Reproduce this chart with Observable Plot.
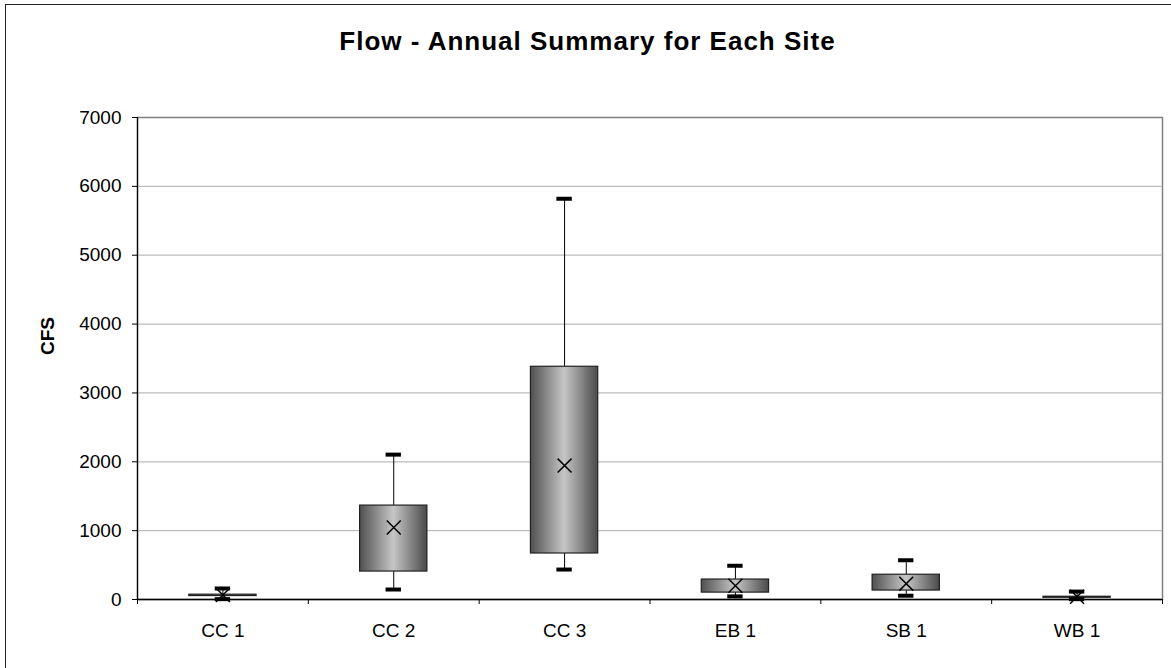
<!DOCTYPE html>
<html>
<head>
<meta charset="utf-8">
<script src="https://cdn.jsdelivr.net/npm/d3@7"></script>
<script src="https://cdn.jsdelivr.net/npm/@observablehq/plot@0.6"></script>
<style>
  html, body { margin: 0; padding: 0; background: #fff; }
  #wrap { position: relative; width: 1171px; height: 668px; overflow: hidden; font-family: "Liberation Sans", Arial, sans-serif; }
  #frame { position: absolute; left: 5px; top: 4px; width: 1180px; height: 700px; border-left: 1.5px solid #222; border-top: 1.5px solid #222; box-sizing: border-box; pointer-events: none; }
  #title { position: absolute; left: 0; width: 1171px; top: 28px; text-align: center; font-weight: bold; font-size: 26px; letter-spacing: 1px; color: #000; line-height: 1; padding-left: 2px; }
  #ylab { position: absolute; left: 48px; top: 336px; transform: translate(-50%, -50%) rotate(-90deg); font-weight: bold; font-size: 19px; color: #000; white-space: nowrap; }
  #chart { position: absolute; left: 0; top: 0; }
</style>
</head>
<body>
<div id="wrap">
  <div id="chart"></div>
  <div id="frame"></div>
  <div id="title">Flow - Annual Summary for Each Site</div>
  <div id="ylab">CFS</div>
</div>
<script>
const sites   = ["CC 1", "CC 2", "CC 3", "EB 1", "SB 1", "WB 1"];
const minVals = [5, 145, 435, 45, 55, 5];
const q1Vals  = [50, 406, 668, 100, 130, 25];
const q3Vals  = [70, 1364, 3380, 290, 360, 40];
const maxVals = [160, 2104, 5820, 490, 570, 115];
const meanVals= [65, 1045, 1945, 200, 230, 40];
const yTicks  = [0, 1000, 2000, 3000, 4000, 5000, 6000, 7000];

const rows = sites.map((s, i) => ({
  site: s, i,
  min: minVals[i], q1: q1Vals[i], q3: q3Vals[i], max: maxVals[i], mean: meanVals[i]
}));

const boxHalf = 0.197;
const capHalf = 0.045;
const idx = d3.range(sites.length);
const bounds = d3.range(sites.length + 1).map(k => k - 0.5);

const chart = Plot.plot({
  width: 1171,
  height: 668,
  marginTop: 117,
  marginBottom: 69,
  marginLeft: 137,
  marginRight: 9,
  style: { fontFamily: "'Liberation Sans', Arial, sans-serif", color: "#000", background: "transparent" },
  x: { type: "linear", domain: [-0.5, sites.length - 0.5], axis: null },
  y: { domain: [0, 7000], axis: null },
  marks: [
    Plot.frame({ stroke: "#808080", strokeWidth: 1.5 }),
    Plot.ruleY(yTicks.filter(d => d > 0 && d < 7000), { stroke: "#bdbdbd", strokeWidth: 1.2 }),
    // whiskers
    Plot.ruleX(rows, { x: "i", y1: "min", y2: "q1", stroke: "#000", strokeWidth: 1 }),
    Plot.ruleX(rows, { x: "i", y1: "q3", y2: "max", stroke: "#000", strokeWidth: 1 }),
    // boxes
    Plot.rectY(rows, { x1: d => d.i - boxHalf, x2: d => d.i + boxHalf, y1: "q1", y2: "q3",
      fill: "url(#boxGrad)", stroke: "#222", strokeWidth: 1.2 }),
    // caps (min / max markers)
    Plot.ruleY(rows, { y: "max", x1: d => d.i - capHalf, x2: d => d.i + capHalf, stroke: "#000", strokeWidth: 4 }),
    Plot.ruleY(rows, { y: "min", x1: d => d.i - capHalf, x2: d => d.i + capHalf, stroke: "#000", strokeWidth: 4 }),
    // mean
    Plot.dot(rows, { x: "i", y: "mean", symbol: "times", r: 6.4, stroke: "#000", strokeWidth: 1.5 }),
    // axes lines
    Plot.ruleX([-0.5], { stroke: "#000", strokeWidth: 1.2 }),
    Plot.ruleY([0], { stroke: "#000", strokeWidth: 1.5 }),
    Plot.axisY({ ticks: yTicks, tickSize: 5, tickPadding: 11, fontSize: 19, tickFormat: d => String(d), stroke: "#000", label: null }),
    Plot.axisX({ ticks: idx, tickFormat: i => sites[i], tickSize: 0, tickPadding: 24, fontSize: 19, label: null }),
    Plot.axisX({ ticks: bounds, tickFormat: () => "", tickSize: 5, stroke: "#000", label: null })
  ]
});

// gradient definition for the boxes
const svg = d3.select(chart);
const defs = svg.insert("defs", ":first-child");
const g = defs.append("linearGradient").attr("id", "boxGrad").attr("x1", "0").attr("x2", "1").attr("y1", "0").attr("y2", "0");
g.append("stop").attr("offset", "0%").attr("stop-color", "#505050");
g.append("stop").attr("offset", "50%").attr("stop-color", "#c6c6c6");
g.append("stop").attr("offset", "100%").attr("stop-color", "#4a4a4a");

document.getElementById("chart").appendChild(chart);
</script>
</body>
</html>
